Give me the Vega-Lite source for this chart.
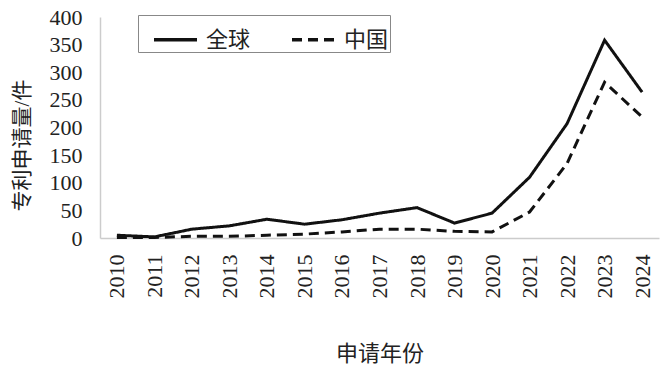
{
  "$schema": "https://vega.github.io/schema/vega-lite/v6.json",
  "width": 559,
  "height": 221,
  "autosize": {"type": "none"},
  "padding": {"left": 100, "top": 17, "right": 1, "bottom": 128},
  "background": "white",
  "config": {
    "view": {"stroke": null},
    "font": "'Liberation Serif', 'Times New Roman', serif"
  },
  "data": {
    "values": [
      {"year": "2010", "region": "全球", "value": 5},
      {"year": "2011", "region": "全球", "value": 2},
      {"year": "2012", "region": "全球", "value": 16},
      {"year": "2013", "region": "全球", "value": 22},
      {"year": "2014", "region": "全球", "value": 34},
      {"year": "2015", "region": "全球", "value": 25},
      {"year": "2016", "region": "全球", "value": 33},
      {"year": "2017", "region": "全球", "value": 45},
      {"year": "2018", "region": "全球", "value": 55},
      {"year": "2019", "region": "全球", "value": 27},
      {"year": "2020", "region": "全球", "value": 45},
      {"year": "2021", "region": "全球", "value": 110},
      {"year": "2022", "region": "全球", "value": 207},
      {"year": "2023", "region": "全球", "value": 358},
      {"year": "2024", "region": "全球", "value": 264},
      {"year": "2010", "region": "中国", "value": 1},
      {"year": "2011", "region": "中国", "value": 1},
      {"year": "2012", "region": "中国", "value": 3},
      {"year": "2013", "region": "中国", "value": 3},
      {"year": "2014", "region": "中国", "value": 5},
      {"year": "2015", "region": "中国", "value": 7},
      {"year": "2016", "region": "中国", "value": 11},
      {"year": "2017", "region": "中国", "value": 16},
      {"year": "2018", "region": "中国", "value": 16},
      {"year": "2019", "region": "中国", "value": 12},
      {"year": "2020", "region": "中国", "value": 11},
      {"year": "2021", "region": "中国", "value": 47},
      {"year": "2022", "region": "中国", "value": 135},
      {"year": "2023", "region": "中国", "value": 282},
      {"year": "2024", "region": "中国", "value": 219}
    ]
  },
  "mark": {"type": "line", "color": "#111111", "strokeWidth": 3},
  "encoding": {
    "x": {
      "field": "year",
      "type": "ordinal",
      "scale": {"type": "point", "padding": 0.45},
      "axis": {
        "title": "申请年份",
        "titleFont": "'Liberation Serif', 'Noto Sans CJK SC', serif",
        "titleFontSize": 22,
        "titleFontWeight": "normal",
        "titleColor": "#222222",
        "titleY": 115,
        "titleBaseline": "middle",
        "labelAngle": -90,
        "labelFont": "'Liberation Serif', 'Times New Roman', serif",
        "labelFontSize": 22,
        "labelColor": "#222222",
        "labelPadding": 16,
        "ticks": false,
        "domainColor": "#cccccc",
        "domainWidth": 1.5,
        "grid": false
      }
    },
    "y": {
      "field": "value",
      "type": "quantitative",
      "scale": {"domain": [0, 400], "nice": false},
      "axis": {
        "title": "专利申请量/件",
        "titleFont": "'Liberation Serif', 'Noto Sans CJK SC', serif",
        "titleFontSize": 21,
        "titleFontWeight": "normal",
        "titleColor": "#222222",
        "titleX": -78,
        "titleY": 128,
        "titleBaseline": "middle",
        "values": [0, 50, 100, 150, 200, 250, 300, 350, 400],
        "labelFont": "'Liberation Serif', 'Times New Roman', serif",
        "labelFontSize": 22,
        "labelColor": "#222222",
        "labelPadding": 18,
        "ticks": false,
        "domainColor": "#cccccc",
        "domainWidth": 1.5,
        "grid": false
      }
    },
    "strokeDash": {
      "field": "region",
      "type": "nominal",
      "scale": {"domain": ["全球", "中国"], "range": [[1, 0], [10, 6]]},
      "legend": {
        "title": null,
        "orient": "none",
        "direction": "horizontal",
        "legendX": 38,
        "legendY": -2,
        "strokeColor": "#888888",
        "padding": 1,
        "symbolOffset": 13,
        "symbolType": "stroke",
        "symbolSize": 1849,
        "symbolStrokeWidth": 3.5,
        "symbolStrokeColor": "#111111",
        "labelFont": "'Liberation Serif', 'Noto Sans CJK SC', serif",
        "labelFontSize": 22,
        "labelColor": "#222222",
        "labelOffset": 7,
        "columnPadding": 26
      }
    }
  }
}
